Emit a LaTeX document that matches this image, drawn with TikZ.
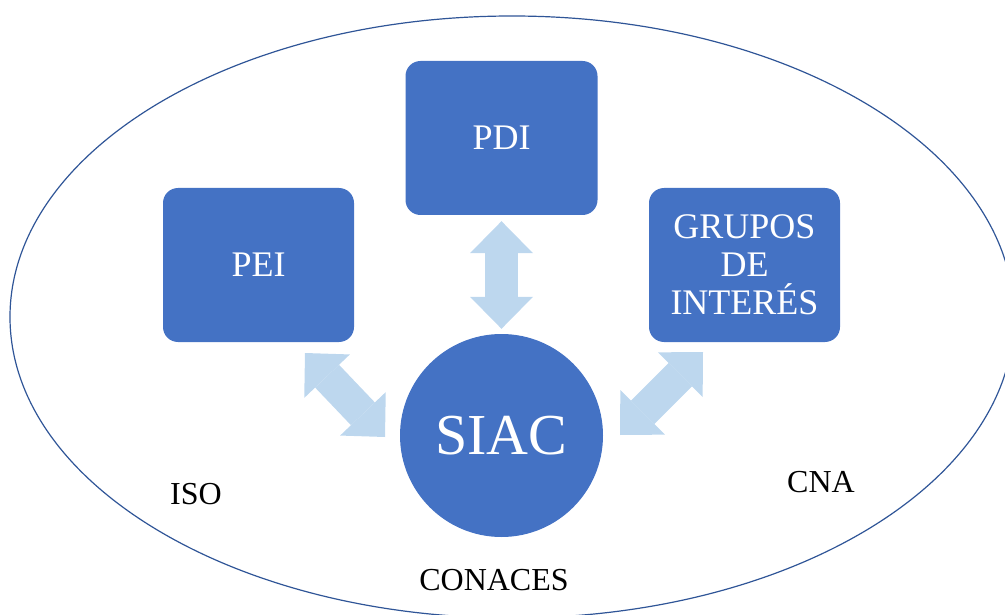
\documentclass[tikz,border=0pt]{standalone}
\usepackage{fontspec}
\setmainfont{Liberation Serif}
\usetikzlibrary{arrows.meta}
\definecolor{boxblue}{RGB}{68,114,196}
\definecolor{arrowblue}{RGB}{189,215,238}
\definecolor{ringblue}{RGB}{47,85,151}
\tikzset{
  box/.style={draw=none, fill=boxblue, rounded corners=15pt, minimum width=191pt, minimum height=154pt, inner sep=0pt, text=white, align=center, font=\fontsize{36}{38}\selectfont},
  hub/.style={circle, fill=boxblue, minimum size=203pt, inner sep=0pt, text=white, font=\fontsize{58}{60}\selectfont},
  outer/.style={inner sep=0pt, font=\fontsize{32}{34}\selectfont},
  bigarrow/.style={draw=arrowblue, line width=33pt,
    arrows={Triangle[width=63pt,length=32pt,line width=0pt,fill=arrowblue]-Triangle[width=63pt,length=32pt,line width=0pt,fill=arrowblue]}}
}
\begin{document}
\begin{tikzpicture}[x=1pt,y=-1pt]
\useasboundingbox (0,0) rectangle (1005,615);
\draw[ringblue, line width=1.2pt] (512,317) ellipse [x radius=502, y radius=301];

\node[box] (pei) at (258.5,265) {PEI};
\node[box, minimum width=192pt] (pdi) at (501.5,138) {PDI};
\node[box, font=\fontsize{36}{38}\selectfont] (grupos) at (744.5,265) {GRUPOS\\DE\\INTERÉS};
\node[hub] (siac) at (501.5,435.5) {SIAC};

\node[outer] (iso) at (196,494.5) {ISO};
\node[outer] (cna) at (821,482) {CNA};
\node[outer] (conaces) at (494,580.5) {CONACES};

\coordinate (l1) at (305,353);
\coordinate (l2) at (385,437);
\coordinate (r1) at (703,352);
\coordinate (r2) at (620,435);

\draw[bigarrow, shorten <=6pt, shorten >=5pt] (pdi.south) -- (siac.north);
\draw[bigarrow] (l1) -- (l2);
\draw[bigarrow] (r1) -- (r2);
\end{tikzpicture}
\end{document}
